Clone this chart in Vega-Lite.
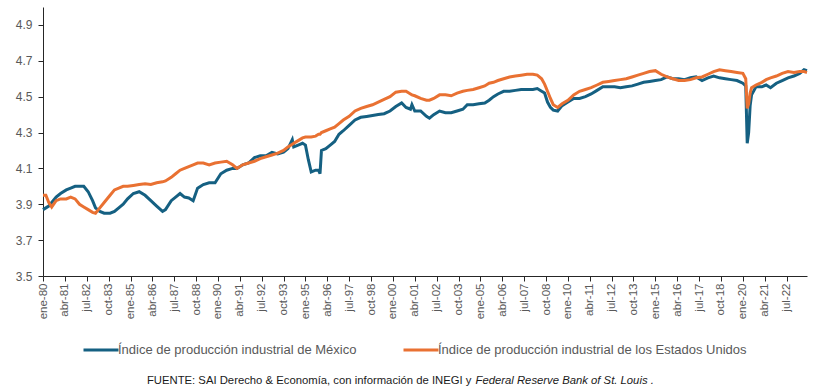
{
  "$schema": "https://vega.github.io/schema/vega-lite/v6.json",
  "width": 764,
  "height": 269,
  "autosize": {"type": "none"},
  "padding": {"left": 43, "top": 7, "right": 13, "bottom": 116},
  "background": "white",
  "config": {"view": {"stroke": null}, "font": "Liberation Sans"},
  "data": {
    "format": {"parse": {"d": "utc:'%Y-%m'"}},
    "values": [
      {"d":"1980-01","mx":3.87,"us":3.95},
      {"d":"1980-03","mx":3.88,"us":3.95},
      {"d":"1980-05","mx":3.89,"us":3.91},
      {"d":"1980-07","mx":3.91,"us":3.885},
      {"d":"1980-10","mx":3.94,"us":3.92},
      {"d":"1981-01","mx":3.96,"us":3.93},
      {"d":"1981-05","mx":3.98,"us":3.93},
      {"d":"1981-08","mx":3.99,"us":3.94},
      {"d":"1981-11","mx":4.0,"us":3.93},
      {"d":"1982-02","mx":4.0,"us":3.9},
      {"d":"1982-05","mx":4.0,"us":3.885},
      {"d":"1982-08","mx":3.97,"us":3.87},
      {"d":"1982-11","mx":3.92,"us":3.855},
      {"d":"1983-01","mx":3.88,"us":3.85},
      {"d":"1983-04","mx":3.86,"us":3.88},
      {"d":"1983-07","mx":3.85,"us":3.91},
      {"d":"1983-11","mx":3.85,"us":3.95},
      {"d":"1984-02","mx":3.86,"us":3.98},
      {"d":"1984-05","mx":3.88,"us":3.99},
      {"d":"1984-08","mx":3.9,"us":4.0},
      {"d":"1984-11","mx":3.93,"us":4.0},
      {"d":"1985-03","mx":3.96,"us":4.005},
      {"d":"1985-07","mx":3.97,"us":4.01},
      {"d":"1985-11","mx":3.95,"us":4.015},
      {"d":"1986-03","mx":3.92,"us":4.01},
      {"d":"1986-07","mx":3.89,"us":4.02},
      {"d":"1986-11","mx":3.86,"us":4.025},
      {"d":"1987-01","mx":3.87,"us":4.03},
      {"d":"1987-05","mx":3.92,"us":4.05},
      {"d":"1987-08","mx":3.94,"us":4.07},
      {"d":"1987-11","mx":3.96,"us":4.09},
      {"d":"1988-02","mx":3.94,"us":4.1},
      {"d":"1988-05","mx":3.935,"us":4.11},
      {"d":"1988-08","mx":3.92,"us":4.12},
      {"d":"1988-11","mx":3.99,"us":4.13},
      {"d":"1989-03","mx":4.01,"us":4.13},
      {"d":"1989-07","mx":4.02,"us":4.12},
      {"d":"1989-11","mx":4.02,"us":4.13},
      {"d":"1990-03","mx":4.07,"us":4.135},
      {"d":"1990-07","mx":4.09,"us":4.14},
      {"d":"1990-11","mx":4.1,"us":4.12},
      {"d":"1991-02","mx":4.1,"us":4.1},
      {"d":"1991-06","mx":4.12,"us":4.12},
      {"d":"1991-10","mx":4.13,"us":4.13},
      {"d":"1992-02","mx":4.16,"us":4.14},
      {"d":"1992-06","mx":4.17,"us":4.155},
      {"d":"1992-10","mx":4.17,"us":4.165},
      {"d":"1993-02","mx":4.19,"us":4.175},
      {"d":"1993-06","mx":4.18,"us":4.185},
      {"d":"1993-10","mx":4.19,"us":4.2},
      {"d":"1994-01","mx":4.21,"us":4.22},
      {"d":"1994-04","mx":4.26,"us":4.235},
      {"d":"1994-05","mx":4.22,"us":4.24},
      {"d":"1994-08","mx":4.23,"us":4.255},
      {"d":"1994-11","mx":4.24,"us":4.27},
      {"d":"1995-01","mx":4.23,"us":4.275},
      {"d":"1995-03","mx":4.15,"us":4.275},
      {"d":"1995-05","mx":4.08,"us":4.275},
      {"d":"1995-08","mx":4.09,"us":4.28},
      {"d":"1995-10","mx":4.09,"us":4.29},
      {"d":"1995-11","mx":4.07,"us":4.29},
      {"d":"1995-12","mx":4.2,"us":4.3},
      {"d":"1996-03","mx":4.21,"us":4.31},
      {"d":"1996-06","mx":4.23,"us":4.32},
      {"d":"1996-09","mx":4.25,"us":4.33},
      {"d":"1996-12","mx":4.29,"us":4.35},
      {"d":"1997-03","mx":4.31,"us":4.37},
      {"d":"1997-07","mx":4.34,"us":4.39},
      {"d":"1997-11","mx":4.37,"us":4.42},
      {"d":"1998-03","mx":4.385,"us":4.435},
      {"d":"1998-07","mx":4.39,"us":4.445},
      {"d":"1998-11","mx":4.395,"us":4.455},
      {"d":"1999-03","mx":4.4,"us":4.47},
      {"d":"1999-07","mx":4.405,"us":4.485},
      {"d":"1999-11","mx":4.42,"us":4.5},
      {"d":"2000-03","mx":4.445,"us":4.525},
      {"d":"2000-07","mx":4.465,"us":4.53},
      {"d":"2000-10","mx":4.44,"us":4.53},
      {"d":"2001-01","mx":4.43,"us":4.515},
      {"d":"2001-02","mx":4.455,"us":4.51},
      {"d":"2001-04","mx":4.42,"us":4.505},
      {"d":"2001-08","mx":4.42,"us":4.49},
      {"d":"2001-12","mx":4.39,"us":4.48},
      {"d":"2002-02","mx":4.38,"us":4.48},
      {"d":"2002-05","mx":4.4,"us":4.49},
      {"d":"2002-09","mx":4.42,"us":4.51},
      {"d":"2003-01","mx":4.41,"us":4.51},
      {"d":"2003-05","mx":4.41,"us":4.505},
      {"d":"2003-09","mx":4.42,"us":4.52},
      {"d":"2004-01","mx":4.43,"us":4.53},
      {"d":"2004-04","mx":4.455,"us":4.535},
      {"d":"2004-08","mx":4.455,"us":4.54},
      {"d":"2004-12","mx":4.46,"us":4.55},
      {"d":"2005-04","mx":4.465,"us":4.56},
      {"d":"2005-07","mx":4.48,"us":4.575},
      {"d":"2005-10","mx":4.5,"us":4.58},
      {"d":"2006-01","mx":4.515,"us":4.59},
      {"d":"2006-05","mx":4.53,"us":4.6},
      {"d":"2006-09","mx":4.53,"us":4.61},
      {"d":"2007-01","mx":4.535,"us":4.615},
      {"d":"2007-05","mx":4.54,"us":4.62},
      {"d":"2007-09","mx":4.54,"us":4.625},
      {"d":"2008-01","mx":4.54,"us":4.625},
      {"d":"2008-04","mx":4.545,"us":4.62},
      {"d":"2008-07","mx":4.53,"us":4.6},
      {"d":"2008-09","mx":4.52,"us":4.57},
      {"d":"2008-11","mx":4.47,"us":4.53},
      {"d":"2009-01","mx":4.44,"us":4.49},
      {"d":"2009-03","mx":4.425,"us":4.455},
      {"d":"2009-06","mx":4.42,"us":4.44},
      {"d":"2009-09","mx":4.45,"us":4.46},
      {"d":"2010-01","mx":4.47,"us":4.48},
      {"d":"2010-05","mx":4.49,"us":4.51},
      {"d":"2010-09","mx":4.49,"us":4.53},
      {"d":"2011-01","mx":4.5,"us":4.54},
      {"d":"2011-05","mx":4.515,"us":4.55},
      {"d":"2011-09","mx":4.535,"us":4.565},
      {"d":"2012-01","mx":4.555,"us":4.58},
      {"d":"2012-05","mx":4.555,"us":4.585},
      {"d":"2012-09","mx":4.555,"us":4.59},
      {"d":"2013-01","mx":4.55,"us":4.595},
      {"d":"2013-05","mx":4.555,"us":4.6},
      {"d":"2013-09","mx":4.56,"us":4.61},
      {"d":"2014-01","mx":4.57,"us":4.62},
      {"d":"2014-05","mx":4.58,"us":4.63},
      {"d":"2014-09","mx":4.585,"us":4.64},
      {"d":"2015-01","mx":4.59,"us":4.645},
      {"d":"2015-05","mx":4.595,"us":4.625},
      {"d":"2015-09","mx":4.61,"us":4.61},
      {"d":"2016-01","mx":4.6,"us":4.6},
      {"d":"2016-05","mx":4.6,"us":4.59},
      {"d":"2016-09","mx":4.595,"us":4.59},
      {"d":"2017-01","mx":4.605,"us":4.595},
      {"d":"2017-05","mx":4.61,"us":4.605},
      {"d":"2017-09","mx":4.59,"us":4.61},
      {"d":"2018-01","mx":4.605,"us":4.625},
      {"d":"2018-05","mx":4.615,"us":4.64},
      {"d":"2018-09","mx":4.605,"us":4.65},
      {"d":"2019-01","mx":4.6,"us":4.645},
      {"d":"2019-05","mx":4.595,"us":4.64},
      {"d":"2019-09","mx":4.59,"us":4.635},
      {"d":"2020-01","mx":4.575,"us":4.63},
      {"d":"2020-03","mx":4.56,"us":4.6},
      {"d":"2020-04","mx":4.24,"us":4.435},
      {"d":"2020-05","mx":4.3,"us":4.46},
      {"d":"2020-06","mx":4.45,"us":4.52},
      {"d":"2020-07","mx":4.51,"us":4.55},
      {"d":"2020-10","mx":4.555,"us":4.565},
      {"d":"2021-02","mx":4.555,"us":4.58},
      {"d":"2021-05","mx":4.565,"us":4.595},
      {"d":"2021-08","mx":4.55,"us":4.605},
      {"d":"2021-12","mx":4.575,"us":4.615},
      {"d":"2022-04","mx":4.59,"us":4.63},
      {"d":"2022-08","mx":4.605,"us":4.64},
      {"d":"2022-12","mx":4.615,"us":4.635},
      {"d":"2023-04","mx":4.63,"us":4.64},
      {"d":"2023-07","mx":4.65,"us":4.64},
      {"d":"2023-09","mx":4.645,"us":4.635}
    ]
  },
  "transform": [{"fold": ["mx", "us"], "as": ["serie", "valor"]}],
  "mark": {"type": "line", "strokeWidth": 3, "interpolate": "linear"},
  "encoding": {
    "x": {
      "field": "d",
      "type": "temporal",
      "scale": {
        "type": "utc",
        "domain": [{"year": 1980, "month": 1, "date": 1, "utc": true}, {"year": 2023, "month": 9, "date": 1, "utc": true}]
      },
      "axis": {
        "values": [
          {"year":1980,"month":1,"utc":true},{"year":1981,"month":4,"utc":true},{"year":1982,"month":7,"utc":true},{"year":1983,"month":10,"utc":true},
          {"year":1985,"month":1,"utc":true},{"year":1986,"month":4,"utc":true},{"year":1987,"month":7,"utc":true},{"year":1988,"month":10,"utc":true},
          {"year":1990,"month":1,"utc":true},{"year":1991,"month":4,"utc":true},{"year":1992,"month":7,"utc":true},{"year":1993,"month":10,"utc":true},
          {"year":1995,"month":1,"utc":true},{"year":1996,"month":4,"utc":true},{"year":1997,"month":7,"utc":true},{"year":1998,"month":10,"utc":true},
          {"year":2000,"month":1,"utc":true},{"year":2001,"month":4,"utc":true},{"year":2002,"month":7,"utc":true},{"year":2003,"month":10,"utc":true},
          {"year":2005,"month":1,"utc":true},{"year":2006,"month":4,"utc":true},{"year":2007,"month":7,"utc":true},{"year":2008,"month":10,"utc":true},
          {"year":2010,"month":1,"utc":true},{"year":2011,"month":4,"utc":true},{"year":2012,"month":7,"utc":true},{"year":2013,"month":10,"utc":true},
          {"year":2015,"month":1,"utc":true},{"year":2016,"month":4,"utc":true},{"year":2017,"month":7,"utc":true},{"year":2018,"month":10,"utc":true},
          {"year":2020,"month":1,"utc":true},{"year":2021,"month":4,"utc":true},{"year":2022,"month":7,"utc":true}
        ],
        "labelExpr": "['ene','feb','mar','abr','may','jun','jul','ago','sep','oct','nov','dic'][utcmonth(datum.value)] + '-' + utcFormat(datum.value, '%y')",
        "labelAngle": 270,
        "labelAlign": "right",
        "labelBaseline": "middle",
        "labelFont": "Liberation Sans Narrow, Liberation Sans",
        "labelFontSize": 11.5,
        "labelColor": "#595959",
        "labelPadding": 2,
        "labelOverlap": false,
        "labelFlush": false,
        "tickSize": 5,
        "tickColor": "#262626",
        "domainColor": "#262626",
        "grid": false,
        "title": "FUENTE: SAI Derecho & Economía, con información de INEGI y",
        "titleX": 428,
        "titleY": 107,
        "titleAlign": "right",
        "titleAngle": 0,
        "titleBaseline": "alphabetic",
        "titleFont": "Liberation Sans Narrow, Liberation Sans",
        "titleFontWeight": "normal",
        "titleFontSize": 11.3,
        "titleColor": "#1a1a1a"
      }
    },
    "y": {
      "field": "valor",
      "type": "quantitative",
      "scale": {"domain": [3.5, 5.0], "nice": false, "zero": false},
      "axis": {
        "values": [3.5, 3.7, 3.9, 4.1, 4.3, 4.5, 4.7, 4.9],
        "format": ".1f",
        "labelFontSize": 12,
        "labelColor": "#595959",
        "labelPadding": 6,
        "tickSize": 5,
        "tickColor": "#262626",
        "domainColor": "#262626",
        "grid": false,
        "title": "Federal Reserve Bank of St. Louis .",
        "titleAngle": 0,
        "titleX": 432,
        "titleY": 376,
        "titleAlign": "left",
        "titleBaseline": "alphabetic",
        "titleFont": "Liberation Sans Narrow, Liberation Sans",
        "titleFontStyle": "italic",
        "titleFontWeight": "normal",
        "titleFontSize": 11.3,
        "titleColor": "#1a1a1a"
      }
    },
    "color": {
      "field": "serie",
      "type": "nominal",
      "scale": {"domain": ["mx", "us"], "range": ["#156082", "#E97132"]},
      "legend": {
        "orient": "none",
        "legendX": 39,
        "legendY": 324,
        "direction": "horizontal",
        "title": null,
        "padding": 0,
        "symbolType": "stroke",
        "symbolSize": 1225,
        "symbolStrokeWidth": 3,
        "labelExpr": "datum.value == 'mx' ? 'Índice de producción industrial de México' : 'Índice de producción industrial de los Estados Unidos'",
        "labelFontSize": 13,
        "labelColor": "#595959",
        "labelLimit": 400,
        "labelOffset": -2,
        "columnPadding": 40
      }
    }
  }
}
